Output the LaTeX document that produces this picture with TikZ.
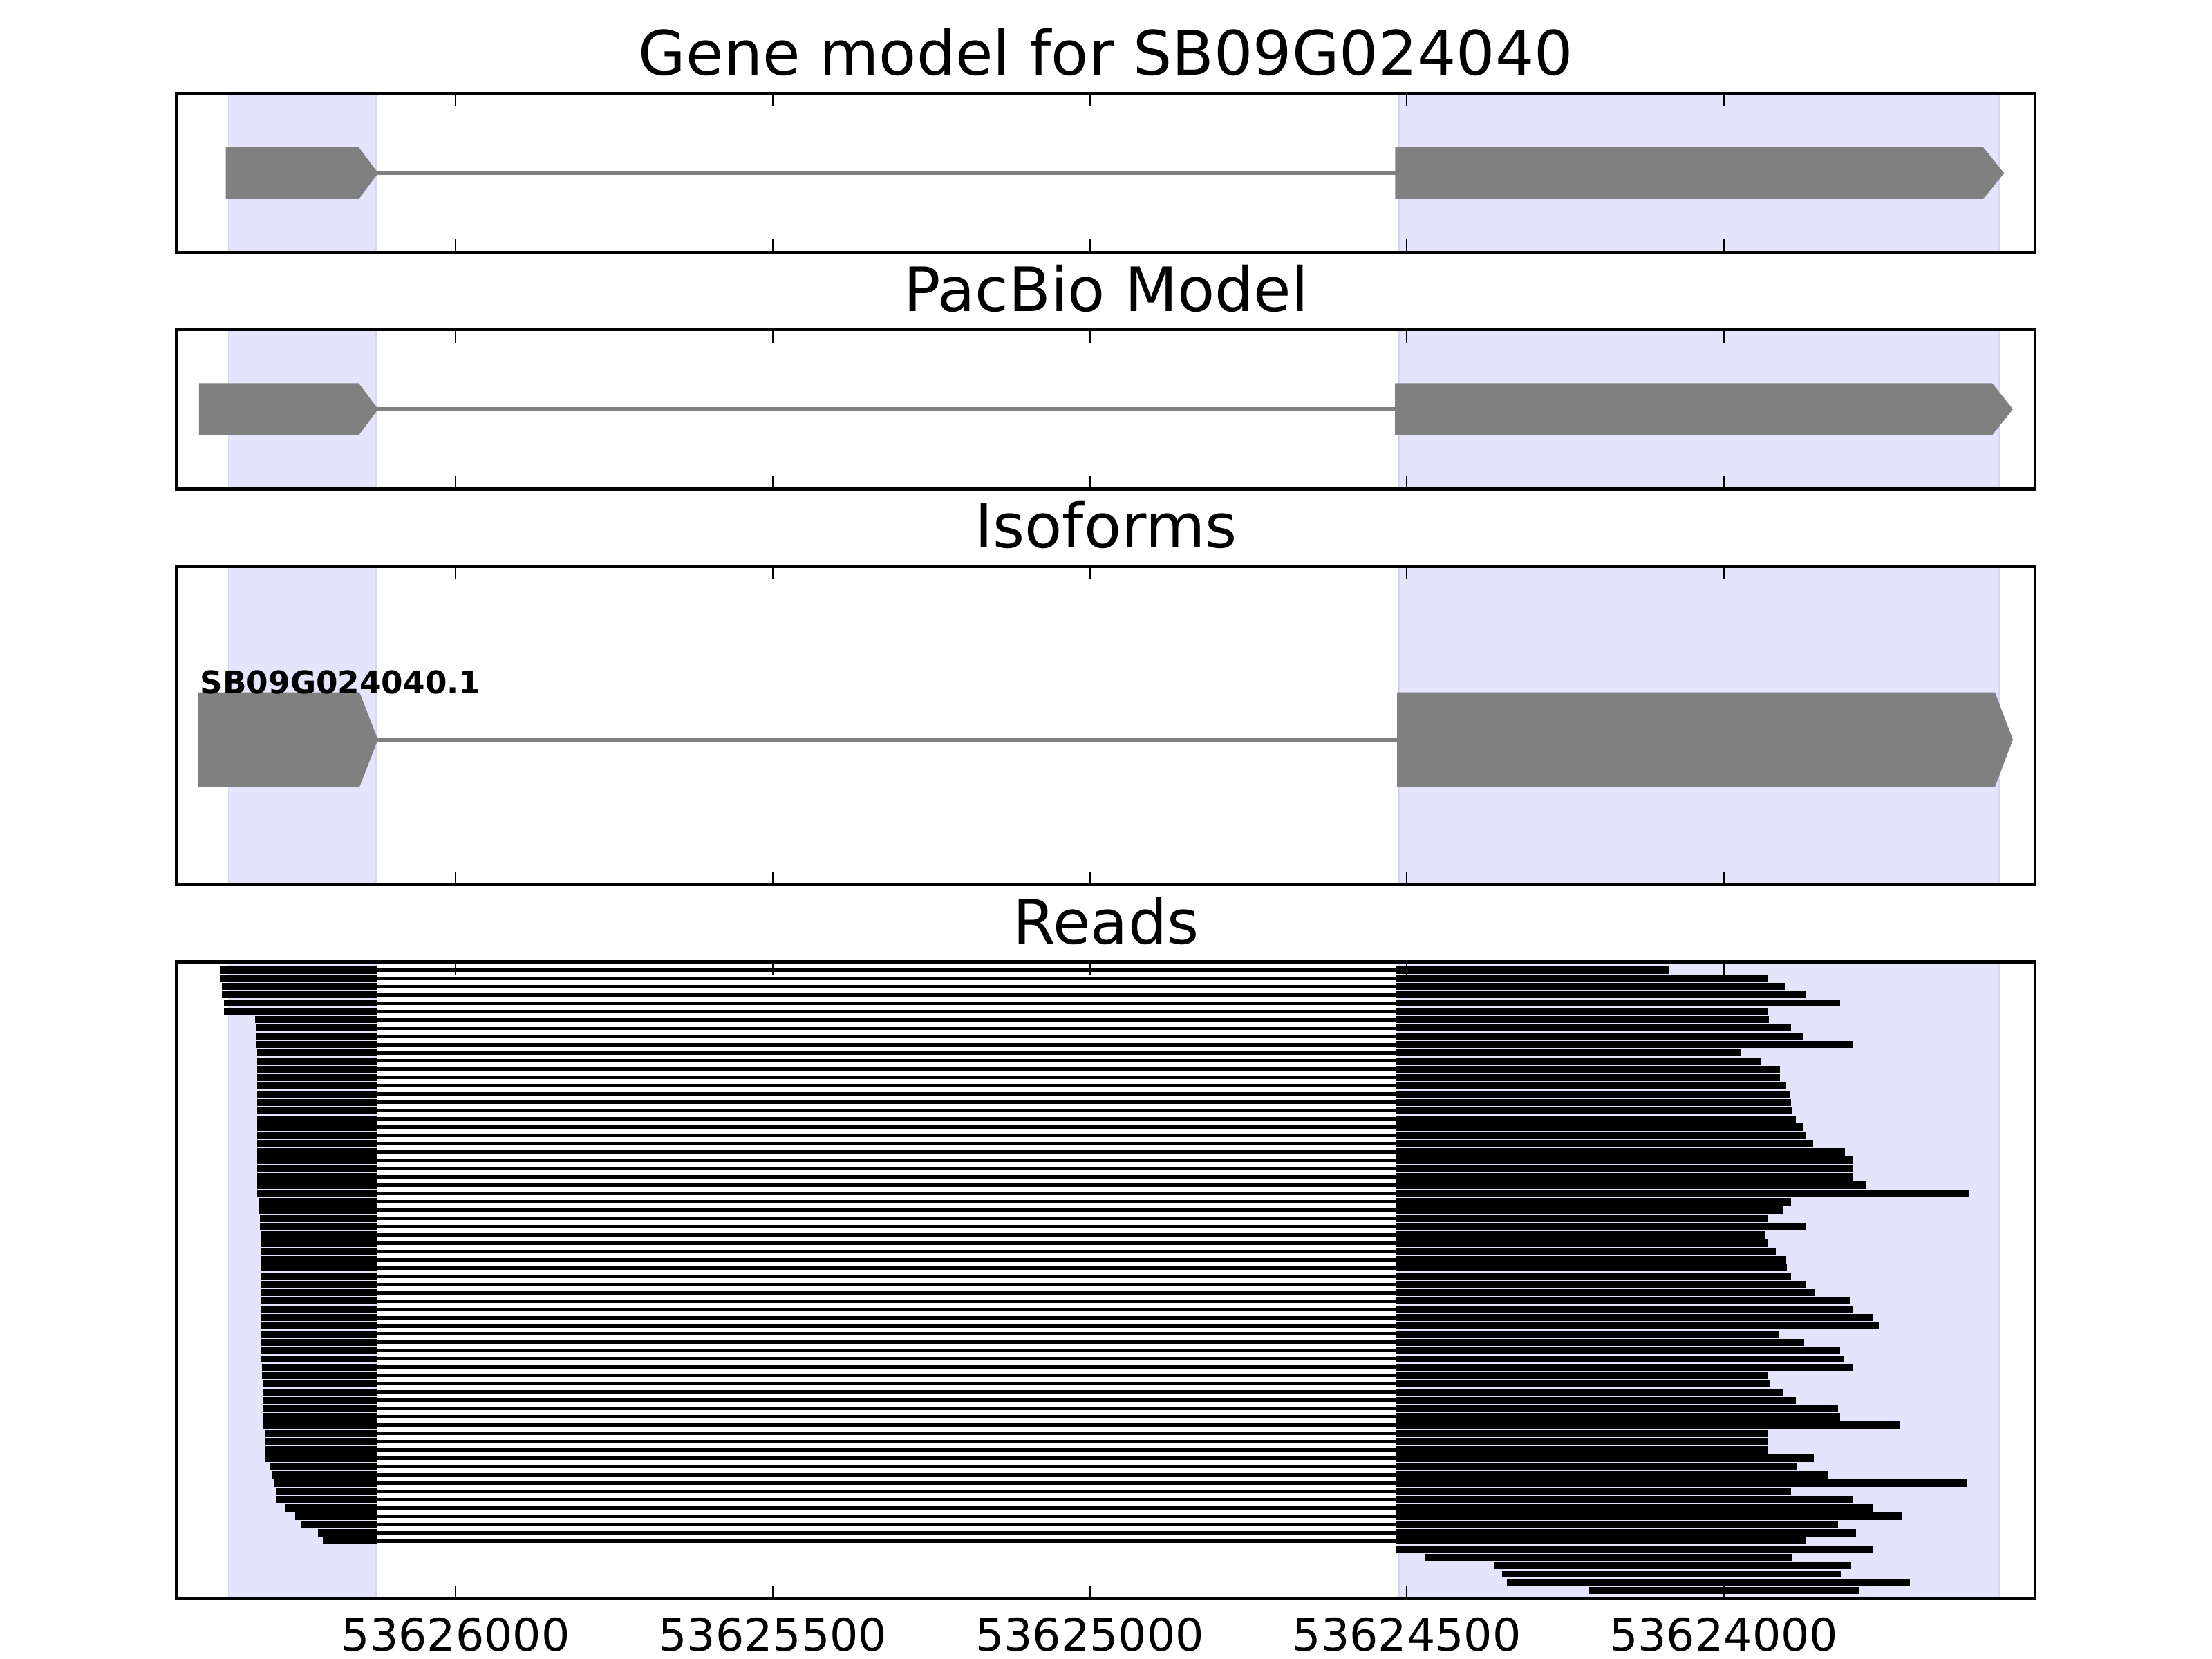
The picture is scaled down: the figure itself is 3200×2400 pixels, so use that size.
\documentclass[tikz,border=0pt]{standalone}
\usepackage{fontspec}
\setmainfont{DejaVu Sans}
\definecolor{shade}{RGB}{228,228,252}
\definecolor{shadeedge}{RGB}{214,214,238}
\definecolor{exongray}{RGB}{128,128,128}
\begin{document}
\begin{tikzpicture}[x=0.1mm,y=-0.1mm,
  panel/.style={draw=black,line width=0.45mm},
  region/.style={fill=shade,draw=shadeedge,line width=0.25mm},
  exon/.style={fill=exongray},
  intron/.style={draw=exongray,line width=0.5mm},
  tickmark/.style={draw=black,line width=0.23mm},
  title/.style={anchor=base,inner sep=0pt,font=\fontsize{25.2}{30}\selectfont},
  ticklabel/.style={anchor=base,inner sep=0pt,font=\fontsize{18.5}{22}\selectfont},
  isolabel/.style={anchor=base west,inner sep=0pt,font=\bfseries\fontsize{12.9}{15}\selectfont},
  readbar/.style={fill=black},
  readline/.style={draw=black,line width=0.5mm}]
\useasboundingbox[fill=white] (0,0) rectangle (3200,2400);

% shaded exon regions
\foreach \t/\b in {135/365.4, 477/707.4, 819/1279.8, 1391.4/2313}{
  \path[region] (331,\t) rectangle (543.5,\b);
  \path[region] (2024,\t) rectangle (2892,\b);
}

% Gene model
\draw[intron] (540,250.5) -- (2025,250.5);
\fill[exon] (326.5,213) -- (519,213) -- (547,250.5) -- (519,288) -- (326.5,288) -- cycle;
\fill[exon] (2018.3,213) -- (2869,213) -- (2899.3,250.5) -- (2869,288) -- (2018.3,288) -- cycle;

% PacBio model
\draw[intron] (540,592) -- (2025,592);
\fill[exon] (287.8,554.5) -- (519,554.5) -- (547,592) -- (519,629.5) -- (287.8,629.5) -- cycle;
\fill[exon] (2018,554.5) -- (2882,554.5) -- (2912,592) -- (2882,629.5) -- (2018,629.5) -- cycle;

% Isoforms
\draw[intron] (540,1070) -- (2025,1070);
\fill[exon] (286.7,1001.5) -- (520,1001.5) -- (546.7,1070) -- (520,1138.5) -- (286.7,1138.5) -- cycle;
\fill[exon] (2021,1001.5) -- (2886,1001.5) -- (2912,1070) -- (2886,1138.5) -- (2021,1138.5) -- cycle;

% Reads with both blocks
\foreach \s/\e [count=\i from 0] in {
318.3/2415, 318.3/2557.5, 321.3/2583, 321.3/2611.5, 324.3/2662, 324.3/2557.5, 369.3/2558.7, 371.3/2591, 371.3/2609, 371.3/2681,
372.3/2518, 372.3/2548, 372.3/2575, 372.3/2575, 372.3/2584, 372.3/2590, 372.3/2591, 372.3/2592, 372.3/2598, 372.3/2608,
372.3/2611.5, 372.3/2623, 372.3/2669, 372.3/2680, 372.3/2681, 372.3/2681, 372.3/2700, 372.3/2849,
374.3/2591, 375.3/2580, 376.3/2558, 376.3/2611.5,
377.3/2554, 377.3/2557.5, 377.3/2569, 377.3/2584, 377.3/2585, 377.3/2591, 377.3/2611.5, 377.3/2626, 377.3/2676, 377.3/2680, 377.3/2709, 377.3/2718,
378.3/2574, 378.3/2610, 378.3/2662, 378.3/2668,
379.3/2680, 379.3/2558,
380.7/2560, 380.7/2580, 380.7/2598, 380.7/2659, 380.7/2662, 380.7/2749,
383.3/2557.5, 383.3/2557.5, 383.3/2558, 383.3/2624,
389.7/2600, 393.3/2645, 397.3/2846, 399.3/2591, 400.3/2681, 413.3/2709, 427.3/2752, 435.3/2659, 460.3/2685, 467.3/2611.5}{
  \pgfmathsetmacro\yy{1403.3+11.97*\i}
  \draw[readline] (540,\yy) -- (2025,\yy);
  \fill[readbar] (\s,\yy-5.25) rectangle (546,\yy+5.25);
  \fill[readbar] (2020,\yy-5.25) rectangle (\e,\yy+5.25);
}
% Reads in the second block only
\foreach \s/\e [count=\i from 70] in {2019/2710, 2061.5/2592, 2161/2677.5, 2173/2663, 2180/2763, 2299/2689}{
  \pgfmathsetmacro\yy{1403.3+11.97*\i}
  \fill[readbar] (\s,\yy-5.25) rectangle (\e,\yy+5.25);
}

% frames and ticks
\foreach \t/\b in {135/365.4, 477/707.4, 819/1279.8, 1391.4/2313}{
  \foreach \tx in {659.3,1117.9,1576.5,2035.1,2493.7}{
    \draw[tickmark] (\tx,\t) -- ++(0,19);
    \draw[tickmark] (\tx,\b) -- ++(0,-19);
  }
  \draw[panel] (255.5,\t) rectangle (2944,\b);
}

% titles
\node[title] (t1) at (1600,108.5) {Gene model for SB09G024040};
\node[title] (t2) at (1600,450.5) {PacBio Model};
\node[title] (t3) at (1600,792.5) {Isoforms};
\node[title] (t4) at (1600,1365) {Reads};

% isoform label
\node[isolabel] (iso) at (289,1003) {SB09G024040.1};

% tick labels
\node[ticklabel] (l1) at (659.3,2388) {53626000};
\node[ticklabel] (l2) at (1117.9,2388) {53625500};
\node[ticklabel] (l3) at (1576.5,2388) {53625000};
\node[ticklabel] (l4) at (2035.1,2388) {53624500};
\node[ticklabel] (l5) at (2493.7,2388) {53624000};
\end{tikzpicture}
\end{document}
